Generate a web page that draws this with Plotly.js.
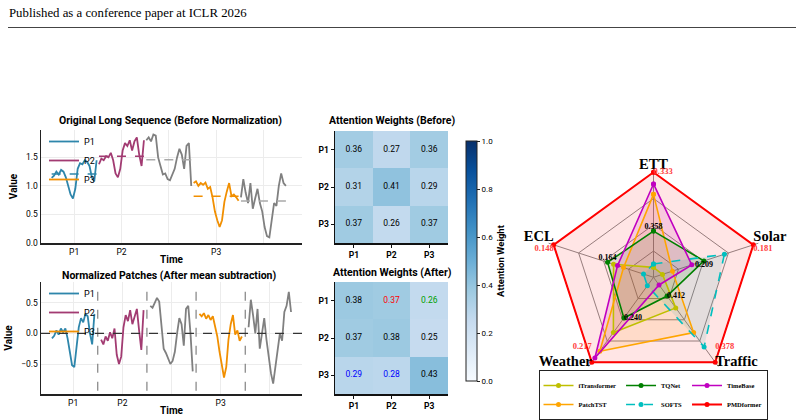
<!DOCTYPE html>
<html><head><meta charset="utf-8">
<script src="https://cdn.plot.ly/plotly-3.0.1.min.js"></script>
<style>html,body{margin:0;padding:0;background:#fff}#chart{width:804px;height:420px}</style>
</head><body><div id="chart"></div>
<script>
// ---------------- data ----------------
const patchTickLabels = ['P1', 'P2', '', 'P3', ''];
const patchNames = ['P1', 'P2', null, 'P3', null];

const origP1 = [1.14,1.18,1.25,1.20,1.28,1.25,1.15,1.00,0.85,0.78,0.95,1.30,1.40,1.38,1.45,1.42,1.35,1.15,1.08,1.45];
const origP2 = [1.38,1.48,1.45,1.52,1.50,1.58,1.45,1.22,1.15,1.30,1.62,1.75,1.70,1.80,1.62,1.78,1.85,1.55,1.35,1.80];
const origG1 = [1.80,1.85,1.78,1.90,1.88,1.50,1.35,1.20,1.22,1.12,1.10,1.20,1.30,1.50,1.65,1.55,1.30,1.70,1.75,1.00];
const origP3 = [1.05,1.08,1.00,1.05,1.02,1.06,0.95,0.98,0.80,0.55,0.40,0.28,0.40,0.72,0.90,1.05,0.82,0.85,0.80,0.74];
const origG2 = [0.80,1.12,0.88,0.70,1.05,0.60,0.78,0.95,0.70,0.55,0.28,0.12,0.10,0.40,0.70,0.65,1.00,1.22,1.05,1.00];
const origMeans = [1.21, 1.52, 1.46, 0.82, 0.735];

const normP1 = [-0.08,-0.04,0.05,-0.02,0.08,0.02,0.08,-0.08,-0.30,-0.52,-0.55,-0.20,0.10,0.25,0.18,0.32,0.28,0.00,-0.18,0.32];
const normP2 = [-0.10,-0.18,-0.05,-0.12,0.02,-0.08,0.08,-0.35,-0.50,-0.38,0.10,0.30,0.20,0.38,0.15,0.30,0.40,0.05,-0.27,0.38];
const normG1 = [0.45,0.42,0.50,0.58,0.52,0.10,-0.25,-0.32,-0.42,-0.50,-0.45,-0.30,0.00,0.25,0.15,-0.20,0.40,0.45,0.00,-0.62];
const normP3 = [0.32,0.28,0.33,0.24,0.30,0.22,0.28,0.10,-0.05,-0.30,-0.50,-0.72,-0.55,-0.10,0.15,0.30,-0.02,0.05,-0.12,-0.05];
const normG2 = [0.10,0.55,0.30,0.00,0.40,-0.25,0.00,0.25,-0.10,-0.40,-0.65,-0.82,-0.55,-0.25,0.00,-0.12,0.35,0.45,0.68,0.35];

const heatLabels = ['P1', 'P2', 'P3'];
const attnBefore = [[0.36,0.27,0.36],[0.31,0.41,0.29],[0.37,0.26,0.37]];
const attnAfter  = [[0.38,0.37,0.26],[0.37,0.38,0.25],[0.29,0.28,0.43]];
const attnAfterTextColors = [['#000','#ff0000','#00a000'],['#000','#000','#000'],['#0000ff','#0000ff','#000']];

const radarAxes = ['ETT', 'Solar', 'Traffic', 'Weather', 'ECL'];
const radarModels = ['iTransformer', 'PatchTST', 'TQNet', 'SOFTS', 'TimeBase', 'PMDformer'];
const rITransformer = [0.095, 0.09, 0.36, 0.65, 0.40];
const rPatchTST     = [0.79, 0.19, 0.65, 0.87, 0.30];
const rTQNet        = [0.44, 0.505, 0.22, 0.48, 0.46];
const rSOFTS        = [0.127, 0.71, 0.82, 0.10, 0.10];
const rTimeBase     = [0.889, 0.383, 0.09, 0.95, 0.36];
const rPMDformer    = [1.0, 1.0, 1.0, 1.0, 1.0];
const pmdLabels   = ['0.333', '0.181', '0.378', '0.217', '0.148'];
const tqnetLabels = ['0.358', '0.209', '0.412', '0.240', '0.164'];

// ---------------- styling ----------------
const W = 804, H = 420;
const FONT = 'Roboto, sans-serif';
const SERIF = 'Liberation Serif, serif';
const patchColors = ['#2E86AB', '#A23B72', '#808080', '#F18F01', '#808080'];
const meanColors  = ['#2E86AB', '#A23B72', '#A9A9A9', '#F18F01', '#A9A9A9'];
const modelColors = {iTransformer:'#BFBF00', PatchTST:'#FFA500', TQNet:'#008000', SOFTS:'#00BFBF', TimeBase:'#C000C0', PMDformer:'#FF0000'};
const modelGroups = {iTransformer:'g1', PatchTST:'g1', TQNet:'g2', SOFTS:'g2', TimeBase:'g3', PMDformer:'g3'};
const modelR = {iTransformer:rITransformer, PatchTST:rPatchTST, TQNet:rTQNet, SOFTS:rSOFTS, TimeBase:rTimeBase, PMDformer:rPMDformer};
const blues = [[0,'#f7fbff'],[0.125,'#deebf7'],[0.25,'#c6dbef'],[0.375,'#9ecae1'],[0.5,'#6baed6'],[0.625,'#4292c6'],[0.75,'#2171b5'],[0.875,'#08519c'],[1,'#08306b']];
// label placement around the radar vertices (style only)
const axisLabelPos = ['top center','top right','middle right','middle left','top left'];
const pmdLabelPos  = ['middle right','bottom right','top right','top left','bottom left'];
const pmdLabelLift = [false, false, true, true, false];   // lift text one line above its anchor
const tqLabelPos   = ['top center','bottom center','middle right','middle right','top center'];

function px(x){return x/W;}
function py(y){return 1 - y/H;}
function rgba(hex, a){const n=parseInt(hex.slice(1),16);return `rgba(${n>>16},${(n>>8)&255},${n&255},${a})`;}

const traces = [];
const shapes = [];

// ---------- top-left: original sequence ----------
const origPatches = [origP1, origP2, origG1, origP3, origG2];
const topStep = origP1.length;
const topTicks = [];
origPatches.forEach((vals, k) => {
  const xs = vals.map((_, j) => k * topStep + j);
  topTicks.push(k * topStep + (vals.length - 1) / 2);
  traces.push({type:'scatter', mode:'lines', x:xs, y:vals, xaxis:'x', yaxis:'y',
    line:{color:patchColors[k], width:1.8}, name:patchNames[k] || '', showlegend:!!patchNames[k],
    legend:'legend', hoverinfo:'skip'});
  traces.push({type:'scatter', mode:'lines', x:[xs[0], xs[xs.length-1]], y:[origMeans[k], origMeans[k]],
    xaxis:'x', yaxis:'y', line:{color:meanColors[k], width:1.5, dash:'dash'}, showlegend:false, hoverinfo:'skip'});
});

// ---------- bottom-left: normalized patches ----------
const normPatches = [normP1, normP2, normG1, normP3, normG2];
const botStep = normP1.length + 2;
const botTicks = [];
const botX = [];
normPatches.forEach((vals, k) => {
  const xs = vals.map((_, j) => k * botStep + j);
  botX.push(xs);
  botTicks.push(k * botStep + (vals.length - 1) / 2);
  traces.push({type:'scatter', mode:'lines', x:xs, y:vals, xaxis:'x2', yaxis:'y2',
    line:{color:patchColors[k], width:1.8}, name:patchNames[k] || '', showlegend:!!patchNames[k],
    legend:'legend2', hoverinfo:'skip'});
});
for (let k = 0; k < botX.length - 1; k++) {
  const xb = (botX[k][botX[k].length-1] + botX[k+1][0]) / 2;
  shapes.push({type:'line', xref:'x2', yref:'y2 domain', x0:xb, x1:xb, y0:0.03, y1:0.97,
    line:{color:'#777', width:1.1, dash:'dash'}});
}
shapes.push({type:'line', xref:'x2 domain', yref:'y2', x0:0, x1:1, y0:0, y1:0,
  line:{color:'#333', width:1.1, dash:'dash'}});

// ---------- heatmaps ----------
function heatText(mat, colors, xa, ya) {
  const xs=[], ys=[], tx=[], cs=[];
  mat.forEach((row, i) => row.forEach((v, j) => {
    xs.push(heatLabels[j]); ys.push(heatLabels[i]); tx.push(v.toFixed(2));
    cs.push(colors ? colors[i][j] : '#000');
  }));
  return {type:'scatter', mode:'text', x:xs, y:ys, text:tx, xaxis:xa, yaxis:ya,
    textfont:{family:FONT, size:8.5, color:cs}, showlegend:false, hoverinfo:'skip'};
}
traces.push({type:'heatmap', z:attnBefore, x:heatLabels, y:heatLabels, xaxis:'x3', yaxis:'y3',
  coloraxis:'coloraxis', hoverinfo:'skip'});
traces.push(heatText(attnBefore, null, 'x3', 'y3'));
traces.push({type:'heatmap', z:attnAfter, x:heatLabels, y:heatLabels, xaxis:'x4', yaxis:'y4',
  coloraxis:'coloraxis', hoverinfo:'skip'});
traces.push(heatText(attnAfter, attnAfterTextColors, 'x4', 'y4'));

// ---------- radar ----------
const closedTheta = radarAxes.concat([radarAxes[0]]);
radarModels.forEach(m => {
  traces.push({type:'scatterpolar', mode:'none', r:modelR[m].concat([modelR[m][0]]), theta:closedTheta,
    fill:'toself', fillcolor:rgba(modelColors[m], m === 'PMDformer' ? 0.1 : 0.12),
    showlegend:false, hoverinfo:'skip', subplot:'polar'});
});
radarModels.forEach(m => {
  traces.push({type:'scatterpolar', mode:'lines+markers', r:modelR[m].concat([modelR[m][0]]), theta:closedTheta,
    line:{color:modelColors[m], width:m === 'PMDformer' ? 2 : 1.6, dash:m === 'SOFTS' ? 'dash' : 'solid'},
    marker:{color:modelColors[m], size:5}, name:m, legend:'legend3', legendgroup:modelGroups[m],
    hoverinfo:'skip', subplot:'polar', cliponaxis:false});
});
// axis names at the outer vertices
traces.push({type:'scatterpolar', mode:'text', r:rPMDformer, theta:radarAxes, text:radarAxes,
  textposition:axisLabelPos,
  textfont:{family:SERIF, size:14.5, color:'#000', weight:'bold'}, showlegend:false, hoverinfo:'skip',
  subplot:'polar', cliponaxis:false});
traces.push({type:'scatterpolar', mode:'text', r:rPMDformer, theta:radarAxes,
  text:pmdLabels.map((t, i) => pmdLabelLift[i] ? t + '<br>\u00a0' : t),
  textposition:pmdLabelPos,
  textfont:{family:SERIF, size:8.5, color:'#FF4040', weight:'bold'}, showlegend:false, hoverinfo:'skip',
  subplot:'polar', cliponaxis:false});
traces.push({type:'scatterpolar', mode:'text', r:rTQNet, theta:radarAxes, text:tqnetLabels,
  textposition:tqLabelPos,
  textfont:{family:SERIF, size:8, color:'#000', weight:'bold'}, showlegend:false, hoverinfo:'skip',
  subplot:'polar', cliponaxis:false});

// ---------- layout ----------
const lineAxisBase = {showline:true, linecolor:'#222', linewidth:1.5, mirror:false, zeroline:false,
  showgrid:true, gridcolor:'#ececec', gridwidth:1, ticks:'', tickfont:{family:FONT, size:8.5, color:'#000'}};
const heatAxisBase = {showline:true, linecolor:'#111', linewidth:1.5, mirror:false, zeroline:false,
  showgrid:false, ticks:'outside', ticklen:3, tickcolor:'#111', type:'category',
  tickfont:{family:FONT, size:8.5, color:'#000', weight:'bold'}};
const titleFont = {family:FONT, size:10.5, color:'#000', weight:'bold'};

const annotations = [
  {text:'Published as a conference paper at ICLR 2026', xref:'paper', yref:'paper', x:px(7), y:py(13),
   xanchor:'left', yanchor:'middle', showarrow:false, font:{family:SERIF, size:12.8, color:'#000'}},
  {text:'Original Long Sequence (Before Normalization)', xref:'paper', yref:'paper', x:px(170), y:py(120),
   xanchor:'center', yanchor:'middle', showarrow:false, font:titleFont},
  {text:'Normalized Patches (After mean subtraction)', xref:'paper', yref:'paper', x:px(169), y:py(275),
   xanchor:'center', yanchor:'middle', showarrow:false, font:titleFont},
  {text:'Attention Weights (Before)', xref:'paper', yref:'paper', x:px(392), y:py(120),
   xanchor:'center', yanchor:'middle', showarrow:false, font:titleFont},
  {text:'Attention Weights (After)', xref:'paper', yref:'paper', x:px(392), y:py(272),
   xanchor:'center', yanchor:'middle', showarrow:false, font:titleFont}
];
shapes.push({type:'line', xref:'paper', yref:'paper', x0:px(8), x1:px(796), y0:py(27.5), y1:py(27.5),
  line:{color:'#444', width:1}});

const legendBase = {orientation:'v', xanchor:'left', yanchor:'top', bgcolor:'rgba(255,255,255,0)',
  borderwidth:0, font:{family:FONT, size:9, color:'#000'}, tracegroupgap:0, itemwidth:30};

const layout = {
  width:W, height:H, margin:{l:0, r:0, t:0, b:0, autoexpand:false},
  paper_bgcolor:'#fff', plot_bgcolor:'#fff', showlegend:true,
  xaxis: Object.assign({}, lineAxisBase, {domain:[px(41), px(302)], anchor:'y', range:[-4.5, 105.8],
    tickvals:topTicks, ticktext:patchTickLabels,
    title:{text:'Time', font:{family:FONT, size:10, weight:'bold', color:'#000'}, standoff:0}}),
  yaxis: Object.assign({}, lineAxisBase, {domain:[py(243), py(130)], anchor:'x', range:[0, 1.98],
    tickvals:[0, 0.5, 1.0, 1.5], tickformat:'.1f',
    title:{text:'Value', font:{family:FONT, size:10, weight:'bold', color:'#000'}, standoff:6}}),
  xaxis2: Object.assign({}, lineAxisBase, {domain:[px(41), px(302)], anchor:'y2', range:[-4.9, 111.9],
    tickvals:botTicks, ticktext:patchTickLabels,
    title:{text:'Time', font:{family:FONT, size:10, weight:'bold', color:'#000'}, standoff:0}}),
  yaxis2: Object.assign({}, lineAxisBase, {domain:[py(394), py(282)], anchor:'x2', range:[-0.99, 0.84],
    tickvals:[-0.5, 0, 0.5], tickformat:'.1f',
    title:{text:'Value', font:{family:FONT, size:10, weight:'bold', color:'#000'}, standoff:6}}),
  xaxis3: Object.assign({}, heatAxisBase, {domain:[px(335), px(448)], anchor:'y3'}),
  yaxis3: Object.assign({}, heatAxisBase, {domain:[py(243), py(131)], anchor:'x3', autorange:'reversed'}),
  xaxis4: Object.assign({}, heatAxisBase, {domain:[px(335), px(448)], anchor:'y4'}),
  yaxis4: Object.assign({}, heatAxisBase, {domain:[py(394), py(282)], anchor:'x4', autorange:'reversed'}),
  coloraxis:{cmin:0, cmax:1, colorscale:blues, colorbar:{
    x:px(466), xanchor:'left', xpad:0, y:py(261), yanchor:'middle', ypad:0,
    len:240/H, lenmode:'fraction', thickness:11, thicknessmode:'pixels',
    outlinewidth:1, outlinecolor:'#222', ticks:'outside', ticklen:3, tickcolor:'#222',
    tickvals:[0, 0.2, 0.4, 0.6, 0.8, 1.0], tickformat:'.1f',
    tickfont:{family:FONT, size:8, color:'#000'},
    title:{text:'Attention Weight', side:'right', font:{family:FONT, size:9.5, weight:'bold', color:'#000'}}}},
  polar:{domain:{x:[px(543.25), px(763.75)], y:[py(387.55), py(167.05)]}, bgcolor:'rgba(0,0,0,0)',
    gridshape:'linear',
    radialaxis:{range:[0, 1.05], tickvals:[0.25, 0.5, 0.75, 1.0], showticklabels:false, ticks:'',
      showline:false, gridcolor:'#8c8c8c', gridwidth:1},
    angularaxis:{rotation:90, direction:'clockwise', gridcolor:'#8c8c8c', gridwidth:1, showline:false,
      ticks:'', showticklabels:false}},
  legend: Object.assign({}, legendBase, {x:px(44), y:py(127)}),
  legend2: Object.assign({}, legendBase, {x:px(44), y:py(279)}),
  legend3:{orientation:'h', traceorder:'grouped', x:px(653), y:py(370), xanchor:'center', yanchor:'top',
    bgcolor:'#fff', bordercolor:'#222', borderwidth:1, tracegroupgap:0, itemwidth:30,
    font:{family:SERIF, size:6.5, color:'#000', weight:'bold'}},
  annotations:annotations, shapes:shapes
};

Plotly.newPlot('chart', traces, layout, {staticPlot:true, displayModeBar:false});
</script></body></html>
